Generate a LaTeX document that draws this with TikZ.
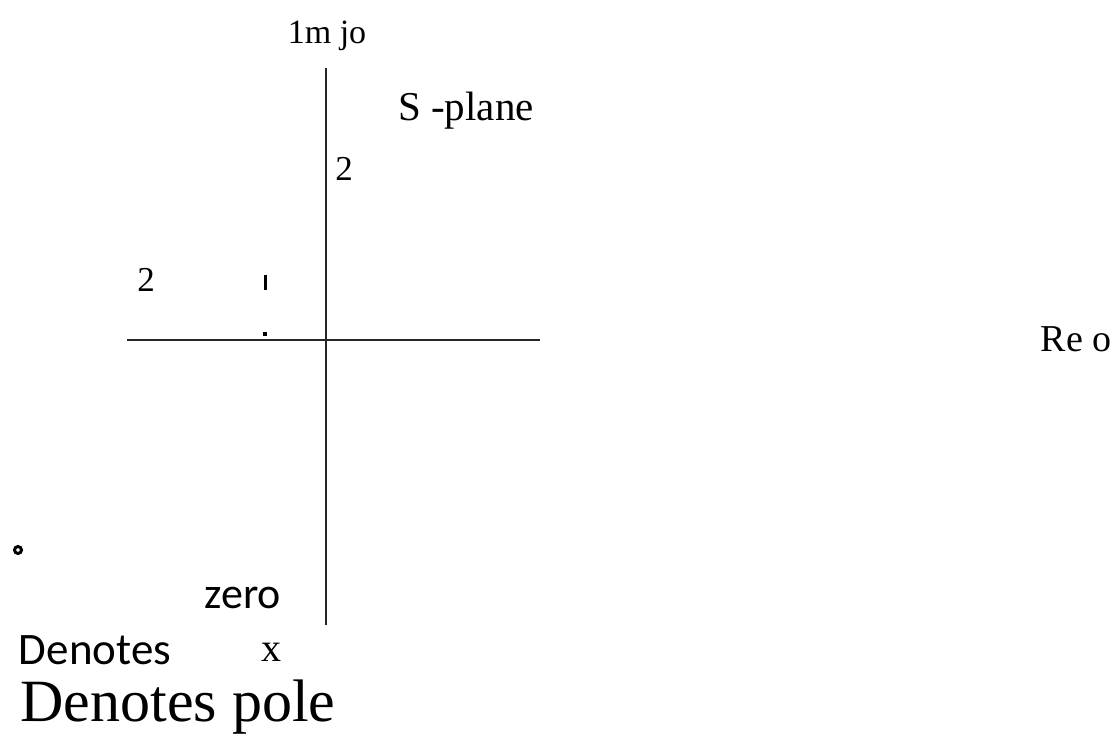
\documentclass[tikz,border=0pt]{standalone}
\usepackage{fontspec}
\setmainfont{Liberation Serif}
\newfontfamily\calib{Carlito}
\begin{document}
\begin{tikzpicture}[x=1pt,y=-1pt,
  axis/.style={line width=1.3pt, draw=black!85},
  serif/.style={inner sep=0pt, font=\fontsize{#1}{#1}\selectfont},
  sans/.style={inner sep=0pt, font=\calib\fontsize{#1}{#1}\selectfont}]
\useasboundingbox (0,0) rectangle (1119,746);
\coordinate (vt) at (326,68);
\coordinate (vb) at (326,625);
\coordinate (hl) at (127,340);
\coordinate (hr) at (540,340);
\draw[axis] (vt) -- (vb);
\draw[axis] (hl) -- (hr);
\node[serif=34] (im) at (327,36) {1m jo};
\node[serif=41] (sp) at (466,111) {S -plane};
\node[serif=35] (two1) at (344,169) {2};
\node[serif=35] (two2) at (146,280) {2};
\node[serif=38] (re) at (1076,339) {Re o};
\node (tick) [fill=black, minimum width=3pt, minimum height=15pt, inner sep=0pt] at (265,282) {};
\node (dot) [fill=black, minimum size=3.5pt, inner sep=0pt] at (265,334) {};
\node (circ) [circle, draw=black, line width=3pt, minimum size=7pt, inner sep=0pt] at (18,550) {};
\node[sans=44] (zero) at (243,598) {zero};
\node[sans=45] (den1) at (95,650) {Denotes};
\node[serif=40] (x) at (271,652) {x};
\node[serif=60] (den2) at (178,707) {Denotes pole};
\end{tikzpicture}
\end{document}
